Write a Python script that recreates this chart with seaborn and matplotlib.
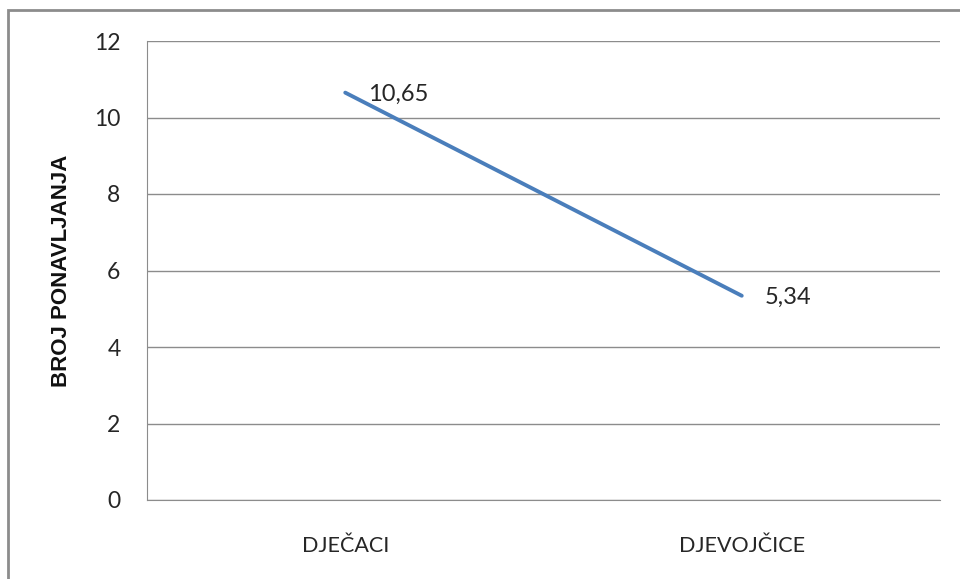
import matplotlib
matplotlib.use("Agg")
import matplotlib.pyplot as plt
import seaborn as sns
import pandas as pd
from matplotlib.patches import Rectangle

categories = ["DJEČACI", "DJEVOJČICE"]
values = [10.65, 5.34]
labels = ["10,65", "5,34"]
y_ticks = [0, 2, 4, 6, 8, 10, 12]

sns.set_style("white")
plt.rcParams['font.family'] = ['Lato', 'DejaVu Sans']

df = pd.DataFrame({"spol": categories, "broj": values})

fig = plt.figure(figsize=(9.6, 5.79), dpi=100)
ax = fig.add_axes([147 / 960, 1 - 500 / 579, (940 - 147) / 960, (500 - 41) / 579])

sns.lineplot(data=df, x="spol", y="broj", ax=ax, color="#4A7EBB", linewidth=2.8,
             sort=False, solid_capstyle="round")

ax.set_xlim(-0.5, 1.5)
ax.set_ylim(0, 12)
ax.set_yticks(y_ticks)
ax.set_yticklabels([str(t) for t in y_ticks], fontsize=16.5)
ax.set_xticks(range(len(categories)))
ax.set_xticklabels(categories, fontsize=15.5)
ax.tick_params(axis='x', pad=26, length=0)
ax.tick_params(axis='y', pad=19, length=0)
ax.grid(axis='y', color='#8c8c8c', linewidth=1)
ax.set_axisbelow(True)
for s in ['top', 'right']:
    ax.spines[s].set_visible(False)
ax.spines['left'].set_color('#8c8c8c')
ax.spines['bottom'].set_color('#8c8c8c')
ax.set_xlabel("")
ax.set_ylabel("BROJ PONAVLJANJA", fontsize=16, fontweight='bold', labelpad=16,
              family=['Liberation Sans', 'DejaVu Sans'], color='#111111')

ax.annotate(labels[0], (0, values[0]), xytext=(16.5, -1.5), textcoords='offset points',
            fontsize=17, va='center')
ax.annotate(labels[1], (1, values[1]), xytext=(16.5, -1.5), textcoords='offset points',
            fontsize=17, va='center')

fig.patches.append(Rectangle((8 / 960, -0.1), 1.2, 1 - 10 / 579 + 0.1, transform=fig.transFigure,
                             fill=False, edgecolor='#8c8c8c', linewidth=2))

fig.savefig("out.png", dpi=100)
